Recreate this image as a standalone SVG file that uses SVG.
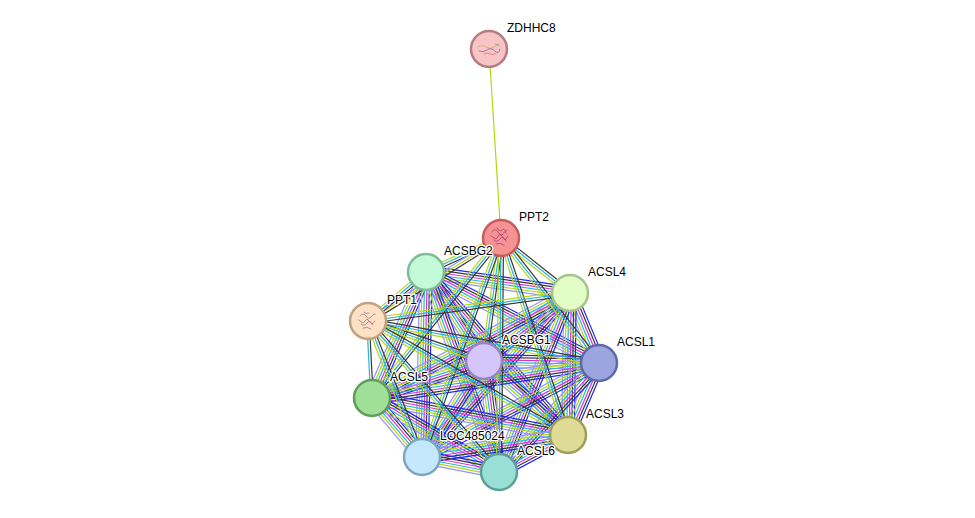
<svg xmlns="http://www.w3.org/2000/svg" xmlns:xlink="http://www.w3.org/1999/xlink" width="975" height="518" viewBox="0 0 975 518">
<style>
#connectors use, #connectors line { fill:none; stroke-width:1.2; }
.b { stroke:#2222fa; }
.k { stroke:#383838; }
.m { stroke:#dd30dd; }
.c { stroke:#22b6d8; }
.y { stroke:#b5d614; }
.l { stroke:#9393ff; }
.km5 { transform: translate(calc(var(--px) * -6.25px), calc(var(--py) * -6.25px)); }
.km3 { transform: translate(calc(var(--px) * -3.75px), calc(var(--py) * -3.75px)); }
.km2 { transform: translate(calc(var(--px) * -2.5px), calc(var(--py) * -2.5px)); }
.km1 { transform: translate(calc(var(--px) * -1.25px), calc(var(--py) * -1.25px)); }
.kp1 { transform: translate(calc(var(--px) * 1.25px), calc(var(--py) * 1.25px)); }
.kp2 { transform: translate(calc(var(--px) * 2.5px), calc(var(--py) * 2.5px)); }
.kp3 { transform: translate(calc(var(--px) * 3.75px), calc(var(--py) * 3.75px)); }
.kp5 { transform: translate(calc(var(--px) * 6.25px), calc(var(--py) * 6.25px)); }
.node circle { stroke-width:2.5; }
.node text { font-family:"Liberation Sans", Arial, sans-serif; font-size:12px; fill:#000; stroke:#fff; stroke-width:2.5; stroke-linejoin:round; paint-order:stroke; }
.struct { fill:none; stroke-width:0.6; stroke-linecap:round; }
</style>
<defs>
<line id="eBC" x1="426" y1="272" x2="570" y2="293"/>
<line id="eBE" x1="426" y1="272" x2="484" y2="361"/>
<line id="eBF" x1="426" y1="272" x2="599" y2="363"/>
<line id="eBG" x1="426" y1="272" x2="372" y2="398"/>
<line id="eBH" x1="426" y1="272" x2="568" y2="435"/>
<line id="eBI" x1="426" y1="272" x2="422" y2="457"/>
<line id="eBJ" x1="426" y1="272" x2="499" y2="472"/>
<line id="eCE" x1="570" y1="293" x2="484" y2="361"/>
<line id="eCF" x1="570" y1="293" x2="599" y2="363"/>
<line id="eCG" x1="570" y1="293" x2="372" y2="398"/>
<line id="eCH" x1="570" y1="293" x2="568" y2="435"/>
<line id="eCI" x1="570" y1="293" x2="422" y2="457"/>
<line id="eCJ" x1="570" y1="293" x2="499" y2="472"/>
<line id="eEF" x1="484" y1="361" x2="599" y2="363"/>
<line id="eEG" x1="484" y1="361" x2="372" y2="398"/>
<line id="eEH" x1="484" y1="361" x2="568" y2="435"/>
<line id="eEI" x1="484" y1="361" x2="422" y2="457"/>
<line id="eEJ" x1="484" y1="361" x2="499" y2="472"/>
<line id="eFG" x1="599" y1="363" x2="372" y2="398"/>
<line id="eFH" x1="599" y1="363" x2="568" y2="435"/>
<line id="eFI" x1="599" y1="363" x2="422" y2="457"/>
<line id="eFJ" x1="599" y1="363" x2="499" y2="472"/>
<line id="eGH" x1="372" y1="398" x2="568" y2="435"/>
<line id="eGI" x1="372" y1="398" x2="422" y2="457"/>
<line id="eGJ" x1="372" y1="398" x2="499" y2="472"/>
<line id="eHI" x1="568" y1="435" x2="422" y2="457"/>
<line id="eHJ" x1="568" y1="435" x2="499" y2="472"/>
<line id="eIJ" x1="422" y1="457" x2="499" y2="472"/>
<line id="eAB" x1="501" y1="238" x2="426" y2="272"/>
<line id="eAC" x1="501" y1="238" x2="570" y2="293"/>
<line id="eAD" x1="501" y1="238" x2="368" y2="321"/>
<line id="eAE" x1="501" y1="238" x2="484" y2="361"/>
<line id="eAF" x1="501" y1="238" x2="599" y2="363"/>
<line id="eAG" x1="501" y1="238" x2="372" y2="398"/>
<line id="eAH" x1="501" y1="238" x2="568" y2="435"/>
<line id="eAI" x1="501" y1="238" x2="422" y2="457"/>
<line id="eAJ" x1="501" y1="238" x2="499" y2="472"/>
<line id="eDB" x1="368" y1="321" x2="426" y2="272"/>
<line id="eDC" x1="368" y1="321" x2="570" y2="293"/>
<line id="eDE" x1="368" y1="321" x2="484" y2="361"/>
<line id="eDF" x1="368" y1="321" x2="599" y2="363"/>
<line id="eDG" x1="368" y1="321" x2="372" y2="398"/>
<line id="eDH" x1="368" y1="321" x2="568" y2="435"/>
<line id="eDI" x1="368" y1="321" x2="422" y2="457"/>
<line id="eDJ" x1="368" y1="321" x2="499" y2="472"/>
</defs>
<rect width="975" height="518" fill="#ffffff"/>
<g id="connectors">
<line class="y" x1="489" y1="49" x2="501" y2="238"/>
<g style="--px:-0.14;--py:0.99"><use href="#eBC" class="b km5"/><use href="#eBC" class="k km3"/><use href="#eBC" class="m km1"/><use href="#eBC" class="c kp1"/><use href="#eBC" class="y kp3"/><use href="#eBC" class="l kp5"/></g>
<g style="--px:-0.84;--py:0.55"><use href="#eBE" class="b km5"/><use href="#eBE" class="k km3"/><use href="#eBE" class="m km1"/><use href="#eBE" class="c kp1"/><use href="#eBE" class="y kp3"/><use href="#eBE" class="l kp5"/></g>
<g style="--px:-0.47;--py:0.88"><use href="#eBF" class="b km5"/><use href="#eBF" class="k km3"/><use href="#eBF" class="m km1"/><use href="#eBF" class="c kp1"/><use href="#eBF" class="y kp3"/><use href="#eBF" class="l kp5"/></g>
<g style="--px:-0.92;--py:-0.39"><use href="#eBG" class="b km5"/><use href="#eBG" class="k km3"/><use href="#eBG" class="m km1"/><use href="#eBG" class="c kp1"/><use href="#eBG" class="y kp3"/><use href="#eBG" class="l kp5"/></g>
<g style="--px:-0.75;--py:0.66"><use href="#eBH" class="b km5"/><use href="#eBH" class="k km3"/><use href="#eBH" class="m km1"/><use href="#eBH" class="c kp1"/><use href="#eBH" class="y kp3"/><use href="#eBH" class="l kp5"/></g>
<g style="--px:-1;--py:-0.02"><use href="#eBI" class="b km5"/><use href="#eBI" class="k km3"/><use href="#eBI" class="m km1"/><use href="#eBI" class="c kp1"/><use href="#eBI" class="y kp3"/><use href="#eBI" class="l kp5"/></g>
<g style="--px:-0.94;--py:0.34"><use href="#eBJ" class="b km5"/><use href="#eBJ" class="k km3"/><use href="#eBJ" class="m km1"/><use href="#eBJ" class="c kp1"/><use href="#eBJ" class="y kp3"/><use href="#eBJ" class="l kp5"/></g>
<g style="--px:-0.62;--py:-0.78"><use href="#eCE" class="b km5"/><use href="#eCE" class="k km3"/><use href="#eCE" class="m km1"/><use href="#eCE" class="c kp1"/><use href="#eCE" class="y kp3"/><use href="#eCE" class="l kp5"/></g>
<g style="--px:-0.92;--py:0.38"><use href="#eCF" class="b km5"/><use href="#eCF" class="k km3"/><use href="#eCF" class="m km1"/><use href="#eCF" class="c kp1"/><use href="#eCF" class="y kp3"/><use href="#eCF" class="l kp5"/></g>
<g style="--px:-0.47;--py:-0.88"><use href="#eCG" class="b km5"/><use href="#eCG" class="k km3"/><use href="#eCG" class="m km1"/><use href="#eCG" class="c kp1"/><use href="#eCG" class="y kp3"/><use href="#eCG" class="l kp5"/></g>
<g style="--px:-1;--py:-0.01"><use href="#eCH" class="b km5"/><use href="#eCH" class="k km3"/><use href="#eCH" class="m km1"/><use href="#eCH" class="c kp1"/><use href="#eCH" class="y kp3"/><use href="#eCH" class="l kp5"/></g>
<g style="--px:-0.74;--py:-0.67"><use href="#eCI" class="b km5"/><use href="#eCI" class="k km3"/><use href="#eCI" class="m km1"/><use href="#eCI" class="c kp1"/><use href="#eCI" class="y kp3"/><use href="#eCI" class="l kp5"/></g>
<g style="--px:-0.93;--py:-0.37"><use href="#eCJ" class="b km5"/><use href="#eCJ" class="k km3"/><use href="#eCJ" class="m km1"/><use href="#eCJ" class="c kp1"/><use href="#eCJ" class="y kp3"/><use href="#eCJ" class="l kp5"/></g>
<g style="--px:-0.02;--py:1"><use href="#eEF" class="b km5"/><use href="#eEF" class="k km3"/><use href="#eEF" class="m km1"/><use href="#eEF" class="c kp1"/><use href="#eEF" class="y kp3"/><use href="#eEF" class="l kp5"/></g>
<g style="--px:-0.31;--py:-0.95"><use href="#eEG" class="b km5"/><use href="#eEG" class="k km3"/><use href="#eEG" class="m km1"/><use href="#eEG" class="c kp1"/><use href="#eEG" class="y kp3"/><use href="#eEG" class="l kp5"/></g>
<g style="--px:-0.66;--py:0.75"><use href="#eEH" class="b km5"/><use href="#eEH" class="k km3"/><use href="#eEH" class="m km1"/><use href="#eEH" class="c kp1"/><use href="#eEH" class="y kp3"/><use href="#eEH" class="l kp5"/></g>
<g style="--px:-0.84;--py:-0.54"><use href="#eEI" class="b km5"/><use href="#eEI" class="k km3"/><use href="#eEI" class="m km1"/><use href="#eEI" class="c kp1"/><use href="#eEI" class="y kp3"/><use href="#eEI" class="l kp5"/></g>
<g style="--px:-0.99;--py:0.13"><use href="#eEJ" class="b km5"/><use href="#eEJ" class="k km3"/><use href="#eEJ" class="m km1"/><use href="#eEJ" class="c kp1"/><use href="#eEJ" class="y kp3"/><use href="#eEJ" class="l kp5"/></g>
<g style="--px:-0.15;--py:-0.99"><use href="#eFG" class="b km5"/><use href="#eFG" class="k km3"/><use href="#eFG" class="m km1"/><use href="#eFG" class="c kp1"/><use href="#eFG" class="y kp3"/><use href="#eFG" class="l kp5"/></g>
<g style="--px:-0.92;--py:-0.40"><use href="#eFH" class="b km5"/><use href="#eFH" class="k km3"/><use href="#eFH" class="m km1"/><use href="#eFH" class="c kp1"/><use href="#eFH" class="y kp3"/><use href="#eFH" class="l kp5"/></g>
<g style="--px:-0.47;--py:-0.88"><use href="#eFI" class="b km5"/><use href="#eFI" class="k km3"/><use href="#eFI" class="m km1"/><use href="#eFI" class="c kp1"/><use href="#eFI" class="y kp3"/><use href="#eFI" class="l kp5"/></g>
<g style="--px:-0.74;--py:-0.68"><use href="#eFJ" class="b km5"/><use href="#eFJ" class="k km3"/><use href="#eFJ" class="m km1"/><use href="#eFJ" class="c kp1"/><use href="#eFJ" class="y kp3"/><use href="#eFJ" class="l kp5"/></g>
<g style="--px:-0.19;--py:0.98"><use href="#eGH" class="b km5"/><use href="#eGH" class="k km3"/><use href="#eGH" class="m km1"/><use href="#eGH" class="c kp1"/><use href="#eGH" class="y kp3"/><use href="#eGH" class="l kp5"/></g>
<g style="--px:-0.76;--py:0.65"><use href="#eGI" class="b km5"/><use href="#eGI" class="k km3"/><use href="#eGI" class="m km1"/><use href="#eGI" class="c kp1"/><use href="#eGI" class="y kp3"/><use href="#eGI" class="l kp5"/></g>
<g style="--px:-0.50;--py:0.86"><use href="#eGJ" class="b km5"/><use href="#eGJ" class="k km3"/><use href="#eGJ" class="m km1"/><use href="#eGJ" class="c kp1"/><use href="#eGJ" class="y kp3"/><use href="#eGJ" class="l kp5"/></g>
<g style="--px:-0.15;--py:-0.99"><use href="#eHI" class="b km5"/><use href="#eHI" class="k km3"/><use href="#eHI" class="m km1"/><use href="#eHI" class="c kp1"/><use href="#eHI" class="y kp3"/><use href="#eHI" class="l kp5"/></g>
<g style="--px:-0.47;--py:-0.88"><use href="#eHJ" class="b km5"/><use href="#eHJ" class="k km3"/><use href="#eHJ" class="m km1"/><use href="#eHJ" class="c kp1"/><use href="#eHJ" class="y kp3"/><use href="#eHJ" class="l kp5"/></g>
<g style="--px:-0.19;--py:0.98"><use href="#eIJ" class="b km5"/><use href="#eIJ" class="k km3"/><use href="#eIJ" class="m km1"/><use href="#eIJ" class="c kp1"/><use href="#eIJ" class="y kp3"/><use href="#eIJ" class="l kp5"/></g>
<g style="--px:-0.41;--py:-0.91"><use href="#eAB" class="k km2"/><use href="#eAB" class="c"/><use href="#eAB" class="y kp2"/></g>
<g style="--px:-0.62;--py:0.78"><use href="#eAC" class="k km2"/><use href="#eAC" class="c"/><use href="#eAC" class="y kp2"/></g>
<g style="--px:-0.53;--py:-0.85"><use href="#eAD" class="k km2"/><use href="#eAD" class="y"/><use href="#eAD" class="l kp2"/></g>
<g style="--px:-0.99;--py:-0.14"><use href="#eAE" class="k km2"/><use href="#eAE" class="c"/><use href="#eAE" class="y kp2"/></g>
<g style="--px:-0.79;--py:0.62"><use href="#eAF" class="k km2"/><use href="#eAF" class="c"/><use href="#eAF" class="y kp2"/></g>
<g style="--px:-0.78;--py:-0.63"><use href="#eAG" class="k km2"/><use href="#eAG" class="c"/><use href="#eAG" class="y kp2"/></g>
<g style="--px:-0.95;--py:0.32"><use href="#eAH" class="k km2"/><use href="#eAH" class="c"/><use href="#eAH" class="y kp2"/></g>
<g style="--px:-0.94;--py:-0.34"><use href="#eAI" class="k km2"/><use href="#eAI" class="c"/><use href="#eAI" class="y kp2"/></g>
<g style="--px:-1;--py:-0.01"><use href="#eAJ" class="k km2"/><use href="#eAJ" class="c"/><use href="#eAJ" class="y kp2"/></g>
<g style="--px:-0.65;--py:-0.76"><use href="#eDB" class="k km2"/><use href="#eDB" class="c"/><use href="#eDB" class="y kp2"/></g>
<g style="--px:-0.14;--py:-0.99"><use href="#eDC" class="k km2"/><use href="#eDC" class="c"/><use href="#eDC" class="y kp2"/></g>
<g style="--px:-0.33;--py:0.95"><use href="#eDE" class="k km2"/><use href="#eDE" class="c"/><use href="#eDE" class="y kp2"/></g>
<g style="--px:-0.18;--py:0.98"><use href="#eDF" class="k km2"/><use href="#eDF" class="c"/><use href="#eDF" class="y kp2"/></g>
<g style="--px:-1;--py:0.05"><use href="#eDG" class="k km1"/><use href="#eDG" class="c kp1"/></g>
<g style="--px:-0.50;--py:0.87"><use href="#eDH" class="k km2"/><use href="#eDH" class="c"/><use href="#eDH" class="y kp2"/></g>
<g style="--px:-0.93;--py:0.37"><use href="#eDI" class="k km2"/><use href="#eDI" class="c"/><use href="#eDI" class="y kp2"/></g>
<g style="--px:-0.76;--py:0.66"><use href="#eDJ" class="k km2"/><use href="#eDJ" class="c"/><use href="#eDJ" class="y kp2"/></g>
</g>
<g id="nodes">
<g id="n-ZDHHC8" class="node">
<circle cx="489" cy="49" r="18" fill="#f8c4c6" stroke="#b47c80"/>
<path class="struct" stroke="#c9a13a" d="M478 47 q4 -3 8 0 t8 0 t6 -1"/>
<path class="struct" stroke="#6b4aa0" d="M479 51 q4 2 8 -1 t8 1 t5 -2"/>
<path class="struct" stroke="#d06060" d="M484 54 q3 -2 6 0 t6 -1"/>
<path class="struct" stroke="#4a9a5a" d="M495 44 q2 2 4 0"/>
<text x="507" y="32">ZDHHC8</text>
</g>
<g id="n-PPT2" class="node">
<circle cx="501" cy="238" r="18" fill="#f49294" stroke="#c95c5e"/>
<path class="struct" stroke="#9a2860" d="M492 232 q3 -5 6 0 t5 2 t4 -4 M494 240 q3 3 6 -1 t6 2 M497 228 q2 4 5 2 t4 3 M491 236 l5 3 l4 -5 l5 6 l3 -4 M496 244 q4 -2 8 1"/>
<text x="519" y="221">PPT2</text>
</g>
<g id="n-ACSBG2" class="node">
<circle cx="426" cy="272" r="18" fill="#c3fad7" stroke="#80bd97"/>
<text x="444" y="255">ACSBG2</text>
</g>
<g id="n-ACSL4" class="node">
<circle cx="570" cy="293" r="18" fill="#e2fdc6" stroke="#a6c38a"/>
<text x="588" y="276">ACSL4</text>
</g>
<g id="n-PPT1" class="node">
<circle cx="368" cy="321" r="18" fill="#fde1c4" stroke="#c4a07f"/>
<path class="struct" stroke="#a04870" d="M360 316 q3 -4 6 0 t5 1 t4 -3 M361 324 q3 3 6 -1 t6 2 M364 312 q2 3 5 1 M359 320 l4 3 l4 -4 l5 5 l3 -3 M363 328 q4 -2 8 1"/>
<text x="387" y="304">PPT1</text>
</g>
<g id="n-ACSBG1" class="node">
<circle cx="484" cy="361" r="18" fill="#d4c5fa" stroke="#9a84bf"/>
<text x="502" y="344">ACSBG1</text>
</g>
<g id="n-ACSL1" class="node">
<circle cx="599" cy="363" r="18" fill="#9ba5df" stroke="#5e6aa6"/>
<text x="617" y="346">ACSL1</text>
</g>
<g id="n-ACSL5" class="node">
<circle cx="372" cy="398" r="18" fill="#9fdf98" stroke="#5f9e58"/>
<text x="390" y="381">ACSL5</text>
</g>
<g id="n-ACSL3" class="node">
<circle cx="568" cy="435" r="18" fill="#dddb96" stroke="#a09e5a"/>
<text x="586" y="418">ACSL3</text>
</g>
<g id="n-LOC485024" class="node">
<circle cx="422" cy="457" r="18" fill="#c4e8fd" stroke="#80a6be"/>
<text x="440" y="440">LOC485024</text>
</g>
<g id="n-ACSL6" class="node">
<circle cx="499" cy="472" r="18" fill="#98e0d6" stroke="#5ca097"/>
<text x="517" y="455">ACSL6</text>
</g>
</g>
</svg>
